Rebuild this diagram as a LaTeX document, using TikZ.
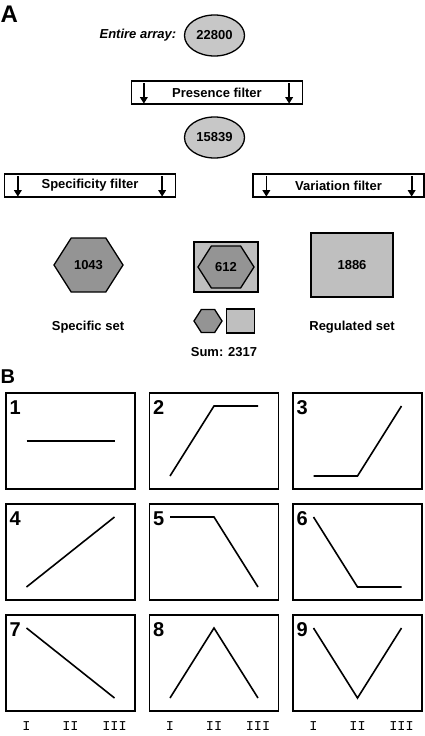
\documentclass[tikz,border=0pt]{standalone}
\usepackage{fontspec}
\setmainfont{Liberation Sans}
\setmonofont{Liberation Mono}
\usepackage{tikz}
\usetikzlibrary{positioning, shapes.geometric, shapes.symbols, arrows.meta}
\tikzset{
every picture/.style={
line width=1.3pt
}}

\begin{document}
\begin{tikzpicture}[x=1pt, y=-1pt,
txt/.style = {font=\fontsize{13}{15}\selectfont\bfseries},
count/.style = {ellipse, draw=black, fill=black!22, minimum width=60pt, minimum height=41pt, inner sep=0pt, txt},
filter/.style = {rectangle, draw=black, fill=white, minimum width=171pt, minimum height=23pt, inner sep=0pt, txt},
hexa/.style = {signal, signal to=west and east, signal pointer angle=115, draw=black, fill=black!42, inner sep=0pt, txt},
sqr/.style = {rectangle, draw=black, fill=black!25, inner sep=0pt, txt},
tag/.style = {inner sep=0pt, txt},
part/.style = {inner sep=0pt, anchor=north west},
panel/.style = {rectangle, draw=black, line width=1.7pt, minimum width=129pt, minimum height=96pt, inner sep=0pt, outer sep=0pt},
pnum/.style = {font=\fontsize{20}{22}\selectfont\bfseries, inner sep=0pt, anchor=north west},
axis/.style = {font=\fontsize{13.5}{15}\selectfont\ttfamily, inner sep=0pt},
trend/.style = {line width=1.6pt},
sieve/.style = {-{Triangle[length=6.5pt, width=7.5pt]}, line width=1.7pt},
node distance = 1cm]

\useasboundingbox (0,0) rectangle (425,736);

% part A
\node[part, font=\fontsize{24}{26}\selectfont\bfseries] (labA) at (0,5) {A};

\node[count] (all) at (214.5,35.5) {22800};
\node[tag, left=7pt of all, font=\fontsize{13}{15}\selectfont\bfseries\itshape] (entire) {Entire array:};
\node[filter] (pres) at (217,92.5) {Presence filter};
\node[count] (kept) [on grid, below=102pt of all] {15839};
\node[filter] (spec) at (90,185.5) {Specificity filter};
\node[filter] (vari) at (338.5,185.5) {Variation filter};

\draw[sieve] ([xshift=13pt, yshift=-3pt]pres.north west) -- ([xshift=13pt, yshift=1pt]pres.south west);
\draw[sieve] ([xshift=-14pt, yshift=-3pt]pres.north east) -- ([xshift=-14pt, yshift=1pt]pres.south east);
\draw[sieve] ([xshift=14pt, yshift=-3pt]spec.north west) -- ([xshift=14pt, yshift=1pt]spec.south west);
\draw[sieve] ([xshift=-14pt, yshift=-3pt]spec.north east) -- ([xshift=-14pt, yshift=1pt]spec.south east);
\draw[sieve] ([xshift=14pt, yshift=-3pt]vari.north west) -- ([xshift=14pt, yshift=1pt]vari.south west);
\draw[sieve] ([xshift=-13pt, yshift=-3pt]vari.north east) -- ([xshift=-13pt, yshift=1pt]vari.south east);

\node[hexa, minimum width=69pt, minimum height=54pt] (specset) at (88.5,265) {1043};
\node[sqr, minimum width=64pt, minimum height=50pt] (both) at (226,267) {};
\node[hexa, minimum width=56pt, minimum height=42pt] (bothhex) at (both.center) {612};
\node[sqr, minimum width=82pt, minimum height=64pt] (regset) at (352,265) {1886};
\node[hexa, minimum width=28pt, minimum height=23pt] (sumhex) at (208,321) {};
\node[sqr, minimum width=28pt, minimum height=24pt, right=3pt of sumhex] (sumsqr) {};

\node[tag] (spectag) at (88,327) {Specific set};
\node[tag] (regtag) at (352,327) {Regulated set};
\node[tag] (sumtag) at (224,352) {Sum: 2317};

% part B
\node[part, font=\fontsize{20}{22}\selectfont\bfseries] (labB) at (0,369) {B};

\begin{scope}[on grid]
  \node[panel] (p1) at (70.5,441) {};
  \node[panel] (p2) [right=143.5pt of p1] {};
  \node[panel] (p3) [right=143.5pt of p2] {};
  \node[panel] (p4) [below=111pt of p1] {};
  \node[panel] (p5) [right=143.5pt of p4] {};
  \node[panel] (p6) [right=143.5pt of p5] {};
  \node[panel] (p7) [below=111pt of p4] {};
  \node[panel] (p8) [right=143.5pt of p7] {};
  \node[panel] (p9) [right=143.5pt of p8] {};
\end{scope}

\node[pnum] (n1) at ([xshift=3pt, yshift=-7pt]p1.north west) {1};
\node[pnum] (n2) at ([xshift=3pt, yshift=-7pt]p2.north west) {2};
\node[pnum] (n3) at ([xshift=3pt, yshift=-7pt]p3.north west) {3};
\node[pnum] (n4) at ([xshift=3pt, yshift=-7pt]p4.north west) {4};
\node[pnum] (n5) at ([xshift=3pt, yshift=-7pt]p5.north west) {5};
\node[pnum] (n6) at ([xshift=3pt, yshift=-7pt]p6.north west) {6};
\node[pnum] (n7) at ([xshift=3pt, yshift=-7pt]p7.north west) {7};
\node[pnum] (n8) at ([xshift=3pt, yshift=-7pt]p8.north west) {8};
\node[pnum] (n9) at ([xshift=3pt, yshift=-7pt]p9.north west) {9};

\draw[trend, shift={(p1.center)}] (-44,0) -- (44,0);
\draw[trend, shift={(p2.center)}] (-44,35) -- (0,-35) -- (44,-35);
\draw[trend, shift={(p3.center)}] (-44,35) -- (0,35) -- (44,-35);
\draw[trend, shift={(p4.center)}] (-44,35) -- (44,-35);
\draw[trend, shift={(p5.center)}] (-44,-35) -- (0,-35) -- (44,35);
\draw[trend, shift={(p6.center)}] (-44,-35) -- (0,35) -- (44,35);
\draw[trend, shift={(p7.center)}] (-44,-35) -- (44,35);
\draw[trend, shift={(p8.center)}] (-44,35) -- (0,-35) -- (44,35);
\draw[trend, shift={(p9.center)}] (-44,-35) -- (0,35) -- (44,-35);

\node[axis] (x7a) at ([shift={(-44,15)}]p7.south) {I};
\node[axis] (x7b) at ([shift={(0,15)}]p7.south) {II};
\node[axis] (x7c) at ([shift={(44,15)}]p7.south) {III};
\node[axis] (x8a) at ([shift={(-44,15)}]p8.south) {I};
\node[axis] (x8b) at ([shift={(0,15)}]p8.south) {II};
\node[axis] (x8c) at ([shift={(44,15)}]p8.south) {III};
\node[axis] (x9a) at ([shift={(-44,15)}]p9.south) {I};
\node[axis] (x9b) at ([shift={(0,15)}]p9.south) {II};
\node[axis] (x9c) at ([shift={(44,15)}]p9.south) {III};

\end{tikzpicture}
\end{document}
